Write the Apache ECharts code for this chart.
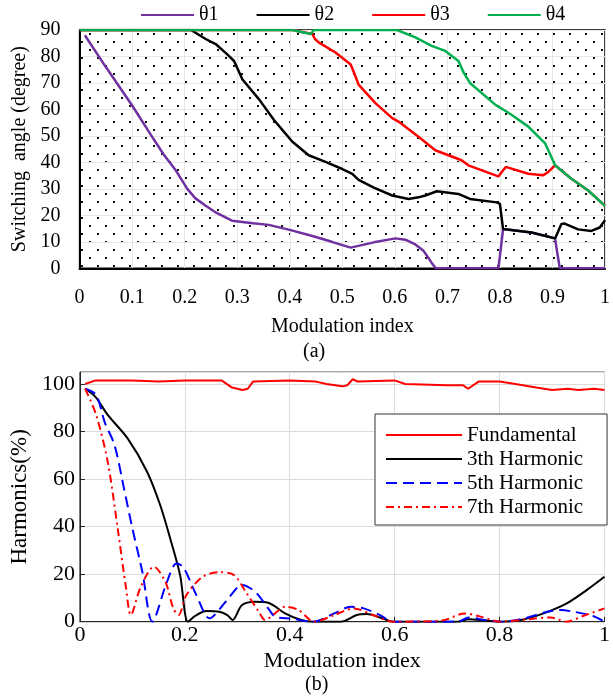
<!DOCTYPE html>
<html>
<head>
<meta charset="utf-8">
<script src="https://cdn.jsdelivr.net/npm/echarts@6/dist/echarts.min.js"></script>
<style>
html,body{margin:0;padding:0;background:#fff;}
#chart{width:613px;height:698px;}
</style>
</head>
<body>
<div id="chart"></div>
<script>
// ---------- (a) switching angles ----------
const theta1M = [0.01,0.05,0.1,0.136,0.16,0.183,0.205,0.22,0.24,0.26,0.29,0.33,0.36,0.4,0.443,0.48,0.516,0.56,0.601,0.62,0.639,0.655,0.664,0.672,0.678,0.797,0.802,0.806,0.86,0.905,0.909,0.914,1.0];
const theta1  = [88,76,61.5,50.3,43,37,30,26.5,23.6,21,18,17,16.4,14.5,12.2,10,7.8,9.8,11.3,10.8,9,6.5,3.9,1.5,0,0,8,14.8,13.5,11.3,6,0,0];

const theta2M = [0,0.212,0.24,0.259,0.28,0.294,0.31,0.342,0.37,0.405,0.436,0.468,0.5,0.519,0.531,0.56,0.595,0.626,0.645,0.658,0.68,0.721,0.743,0.794,0.8,0.806,0.86,0.905,0.917,0.923,0.949,0.974,0.99,1.0];
const theta2  = [90,90,86.6,84.7,81,78.3,71.3,63.7,56,47.8,42.7,40.2,37.5,35.7,33.4,30.5,27.5,26.2,26.8,27.5,29.1,28.1,26.2,24.9,24.3,14.8,13.5,11.3,16.7,16.9,14.7,14.1,15.4,18.2];

const theta3M = [0,0.405,0.443,0.448,0.455,0.487,0.516,0.524,0.531,0.563,0.595,0.607,0.645,0.677,0.727,0.74,0.797,0.811,0.854,0.882,0.892,0.905,0.936,0.968,1.0];
const theta3  = [90,90,88.5,86.6,85.3,81.5,77,73,69.4,62.4,56.7,55.4,49.7,44.6,40.8,38.9,34.7,38.3,35.7,35.1,36.4,38.9,33.8,29.4,23.6];

const theta4M = [0,0.405,0.44,0.446,0.604,0.639,0.67,0.696,0.721,0.731,0.743,0.791,0.822,0.854,0.886,0.905,0.936,0.968,1.0];
const theta4  = [90,90,88.5,90,90,87.2,84,82.1,78.3,73.9,70,61.8,58,53.5,47.2,38.9,33.8,29.4,23.6];

const thetaNames = ['θ1','θ2','θ3','θ4'];

// ---------- (b) harmonics ----------
const fundM = [0.01,0.03,0.1,0.15,0.2,0.27,0.29,0.31,0.32,0.33,0.4,0.45,0.47,0.5,0.51,0.52,0.53,0.6,0.62,0.7,0.73,0.74,0.76,0.8,0.83,0.87,0.9,0.93,0.95,0.98,1.0];
const fundV = [100,101.5,101.5,101,101.5,101.5,98.5,97.5,98,101,101.5,101,100,99,99.5,102,101,101.5,100,99.5,99.5,98,101,101,100,98.5,97.5,98,97.5,98,97.5];

const h3M = [0.01,0.03,0.053,0.091,0.128,0.153,0.172,0.191,0.206,0.22,0.241,0.266,0.281,0.291,0.309,0.334,0.359,0.391,0.422,0.444,0.497,0.528,0.547,0.572,0.597,0.72,0.741,0.772,0.803,0.841,0.884,0.928,0.966,1.0];
const h3V = [98,94.5,87,77.1,63.1,49.1,35.1,19.6,0,2.5,4.5,4.2,2.8,0.7,7,8.4,8,3.5,0.7,0,0,2.8,3.2,1.8,0,0,1,0.5,0,0.7,3.5,7.7,13.3,18.9];

const h5M = [0.01,0.031,0.047,0.066,0.084,0.1,0.119,0.138,0.166,0.184,0.197,0.222,0.247,0.278,0.309,0.334,0.359,0.372,0.403,0.444,0.485,0.516,0.541,0.572,0.597,0.72,0.741,0.772,0.803,0.847,0.891,0.916,0.941,0.978,1.0];
const h5V = [98,95.4,84.1,74.3,56.1,39.3,21,0,16.8,24.5,23,11.2,1.4,8.4,15.4,12.6,5.6,2.1,1.3,0,3.5,6.3,5.6,2.8,0,0,1.8,0.7,0,1.4,4.2,4.9,4.2,2.4,0];

const h7M = [0.01,0.031,0.053,0.072,0.088,0.097,0.116,0.141,0.163,0.178,0.188,0.203,0.234,0.266,0.294,0.316,0.341,0.353,0.372,0.391,0.416,0.447,0.485,0.522,0.559,0.597,0.69,0.734,0.759,0.803,0.853,0.897,0.928,0.959,1.0];
const h7V = [98,87,67.3,39.3,14,2.8,14.7,23.1,16.8,5.6,2.8,11.2,18.9,20.8,19.6,12.6,4.2,0.7,3.5,6.3,5,0,2.8,5.6,2.8,0,0.5,3.5,2.4,0,1,1.8,0,2.4,5.6];

const harmNames = ['Fundamental','3th Harmonic','5th Harmonic','7th Harmonic'];

const xTicksA = 0.1, yMaxA = 90, yStepA = 10;
const xTicksB = 0.2, yMaxB = 105, yStepB = 20;

function zip(xs, ys){ return xs.map((x,i)=>[x, ys[i]]); }

// dotted background pattern
const pc = document.createElement('canvas');
pc.width = 16; pc.height = 16;
const pctx = pc.getContext('2d');
pctx.fillStyle = '#111';
pctx.fillRect(1, 9, 2, 2);
pctx.fillRect(9, 1, 2, 2);

const FONT = 'Liberation Serif';

const chart = echarts.init(document.getElementById('chart'), null, {renderer:'canvas'});
const option = {
  animation: false,
  backgroundColor: '#fff',
  textStyle: {fontFamily: FONT, color: '#000'},
  legend: [
    {
      data: thetaNames,
      orient: 'horizontal',
      left: 140, top: 5,
      padding: 0,
      itemWidth: 53, itemHeight: 14, itemGap: 37,
      itemStyle: {opacity: 0},
      textStyle: {fontFamily: FONT, fontSize: 20, color: '#000'}
    },
    {
      data: harmNames,
      orient: 'vertical',
      left: 375, top: 414,
      padding: [10, 24, 7, 10],
      itemWidth: 76, itemHeight: 14, itemGap: 2,
      itemStyle: {opacity: 0},
      backgroundColor: '#fff',
      borderColor: '#333', borderWidth: 1,
      textStyle: {fontFamily: FONT, fontSize: 21, color: '#000', lineHeight: 22}
    }
  ],
  grid: [
    {left: 79.6, right: 6.4, top: 30, height: 238.3, show: true,
     backgroundColor: {image: pc, repeat: 'repeat'},
     borderColor: '#000', borderWidth: 1.5},
    {left: 78.3, right: 1.3, top: 372.1, height: 249.6, show: true,
     backgroundColor: '#fff', borderColor: '#262626', borderWidth: 1}
  ],
  xAxis: [
    {gridIndex: 0, type: 'value', min: 0, max: 1, interval: xTicksA,
     name: 'Modulation index', nameLocation: 'middle', nameGap: 48,
     nameTextStyle: {fontFamily: FONT, fontSize: 20, color: '#000'},
     axisLine: {show: true, lineStyle: {color: '#000', width: 2}},
     axisTick: {show: false},
     axisLabel: {fontFamily: FONT, fontSize: 20, color: '#000', margin: 19},
     splitLine: {show: true, lineStyle: {color: '#e6e6e6', width: 1}}},
    {gridIndex: 1, type: 'value', min: 0, max: 1, interval: xTicksB,
     name: 'Modulation index', nameLocation: 'middle', nameGap: 29,
     nameTextStyle: {fontFamily: FONT, fontSize: 22, color: '#000'},
     axisLine: {show: true, lineStyle: {color: '#262626', width: 1}},
     axisTick: {show: true, inside: true, length: 5, lineStyle: {color: '#262626'}},
     axisLabel: {fontFamily: FONT, fontSize: 22, color: '#000', margin: 3},
     splitLine: {show: true, lineStyle: {color: '#dcdcdc', width: 1}}}
  ],
  yAxis: [
    {gridIndex: 0, type: 'value', min: 0, max: yMaxA, interval: yStepA,
     name: 'Switching  angle (degree)', nameLocation: 'middle', nameGap: 32,
     nameTextStyle: {fontFamily: FONT, fontSize: 20, color: '#000'},
     axisLine: {show: true, lineStyle: {color: '#000', width: 2}},
     axisTick: {show: false},
     axisLabel: {fontFamily: FONT, fontSize: 20, color: '#000', margin: 19},
     splitLine: {show: true, lineStyle: {color: '#e6e6e6', width: 1}}},
    {gridIndex: 1, type: 'value', min: 0, max: yMaxB, interval: yStepB,
     name: 'Harmonics(%)', nameLocation: 'middle', nameGap: 44,
     nameTextStyle: {fontFamily: FONT, fontSize: 23, color: '#000'},
     axisLine: {show: true, lineStyle: {color: '#262626', width: 1}},
     axisTick: {show: true, inside: true, length: 5, lineStyle: {color: '#262626'}},
     axisLabel: {fontFamily: FONT, fontSize: 22, color: '#000', margin: 5, showMaxLabel: false},
     splitLine: {show: true, lineStyle: {color: '#dcdcdc', width: 1}}}
  ],
  graphic: [
    {type: 'text', left: 303, top: 342, style: {text: '(a)', font: '20px "Liberation Serif"', fill: '#000'}},
    {type: 'text', left: 305, top: 675, style: {text: '(b)', font: '20px "Liberation Serif"', fill: '#000'}}
  ],
  series: [
    {name: thetaNames[0], type: 'line', xAxisIndex: 0, yAxisIndex: 0, data: zip(theta1M, theta1), symbol: 'none', color: '#7030A0', lineStyle: {width: 2.5, color: '#7030A0'}},
    {name: thetaNames[1], type: 'line', xAxisIndex: 0, yAxisIndex: 0, data: zip(theta2M, theta2), symbol: 'none', color: '#000000', lineStyle: {width: 2.5, color: '#000000'}},
    {name: thetaNames[2], type: 'line', xAxisIndex: 0, yAxisIndex: 0, data: zip(theta3M, theta3), symbol: 'none', color: '#FF0000', lineStyle: {width: 2.5, color: '#FF0000'}},
    {name: thetaNames[3], type: 'line', xAxisIndex: 0, yAxisIndex: 0, data: zip(theta4M, theta4), symbol: 'none', color: '#00B050', lineStyle: {width: 2.5, color: '#00B050'}},
    {name: harmNames[0], type: 'line', xAxisIndex: 1, yAxisIndex: 1, data: zip(fundM, fundV), symbol: 'none', color: '#FF0000', lineStyle: {width: 2, color: '#FF0000'}},
    {name: harmNames[1], type: 'line', xAxisIndex: 1, yAxisIndex: 1, data: zip(h3M, h3V), symbol: 'none', smooth: 0.3, color: '#000000', lineStyle: {width: 2, color: '#000000'}},
    {name: harmNames[2], type: 'line', xAxisIndex: 1, yAxisIndex: 1, data: zip(h5M, h5V), symbol: 'none', smooth: 0.3, color: '#0000FF', lineStyle: {width: 2, color: '#0000FF', type: [11, 6]}},
    {name: harmNames[3], type: 'line', xAxisIndex: 1, yAxisIndex: 1, data: zip(h7M, h7V), symbol: 'none', smooth: 0.3, color: '#FF0000', lineStyle: {width: 2, color: '#FF0000', type: [8, 4, 2, 4]}}
  ]
};
chart.setOption(option);
</script>
</body>
</html>
